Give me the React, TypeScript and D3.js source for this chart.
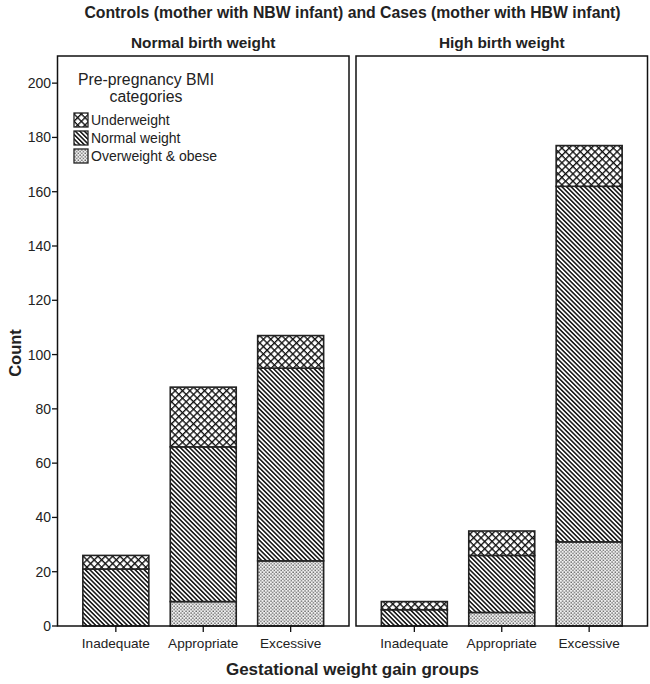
import * as d3 from 'd3';

const WIDTH = 650;
const HEIGHT = 684;

// bar groups and facets
const groups = ['Inadequate', 'Appropriate', 'Excessive'];
const panels = ['Normal birth weight', 'High birth weight'];
// stacking order, bottom to top
const bmiKeys = ['over', 'normal', 'under'];
const bmiLabels = ['Overweight & obese', 'Normal weight', 'Underweight'];

// counts per group (Inadequate, Appropriate, Excessive)
const nbwOver = [0, 9, 24];
const nbwNormal = [21, 57, 71];
const nbwUnder = [5, 22, 12];
const hbwOver = [0, 5, 31];
const hbwNormal = [6, 21, 131];
const hbwUnder = [3, 9, 15];

const yTicks = [0, 20, 40, 60, 80, 100, 120, 140, 160, 180, 200];

const FONT = '"Liberation Sans", Arial, sans-serif';
const PANEL_LEFT = 57.5;
const PANEL_W = 291.5;
const PANEL_GAP = 7;
const Y_TOP = 56;
const Y_BOTTOM = 626;

const patternFor: Record<string, string> = {
    over: 'url(#dots)',
    normal: 'url(#diag)',
    under: 'url(#cross)',
};

function buildRows(over: number[], normal: number[], under: number[]) {
    return groups.map((g, i) => ({ group: g, over: over[i], normal: normal[i], under: under[i] }));
}

const panelRows = [buildRows(nbwOver, nbwNormal, nbwUnder), buildRows(hbwOver, hbwNormal, hbwUnder)];

export default function App() {
    const yScale = d3.scaleLinear().domain([0, 210]).range([Y_BOTTOM, Y_TOP]);
    const xScale = d3
        .scaleBand<string>()
        .domain(groups)
        .range([0, PANEL_W])
        .paddingInner(0.245)
        .paddingOuter(0.29);

    const stack = d3.stack<any>().keys(bmiKeys);
    const plotRight = PANEL_LEFT + 2 * PANEL_W + PANEL_GAP;
    const centerX = (PANEL_LEFT + plotRight) / 2;

    return (
        <div style={{ position: 'absolute', left: 0, top: 0 }}>
            <svg width={WIDTH} height={HEIGHT} style={{ display: 'block', background: '#fff' }}>
                <defs>
                    <pattern id="cross" patternUnits="userSpaceOnUse" width={5.2} height={5.2} patternTransform="rotate(45)">
                        <rect width={5.2} height={5.2} fill="#fff" />
                        <line x1={0} y1={0} x2={0} y2={5.2} stroke="#111" strokeWidth={2.7} />
                        <line x1={0} y1={0} x2={5.2} y2={0} stroke="#111" strokeWidth={2.7} />
                    </pattern>
                    <pattern id="diag" patternUnits="userSpaceOnUse" width={3.2} height={3.2} patternTransform="rotate(-45)">
                        <rect width={3.2} height={3.2} fill="#fff" />
                        <line x1={0.8} y1={0} x2={0.8} y2={3.2} stroke="#151515" strokeWidth={1.55} />
                    </pattern>
                    <pattern id="dots" patternUnits="userSpaceOnUse" width={3.4} height={3.4}>
                        <rect width={3.4} height={3.4} fill="#f2f2f2" />
                        <rect x={0.4} y={0.4} width={1.2} height={1.2} fill="#333" />
                        <rect x={2.1} y={2.1} width={1.2} height={1.2} fill="#333" />
                    </pattern>
                </defs>

                <text x={centerX} y={18} textAnchor="middle" fontFamily={FONT} fontWeight="bold" fontSize={15.8} fill="#222">
                    Controls (mother with NBW infant) and Cases (mother with HBW infant)
                </text>

                {panels.map((title, p) => {
                    const left = PANEL_LEFT + p * (PANEL_W + PANEL_GAP);
                    const series = stack(panelRows[p]);
                    return (
                        <g key={title} transform={`translate(${left},0)`}>
                            <text x={PANEL_W / 2} y={48} textAnchor="middle" fontFamily={FONT} fontWeight="bold" fontSize={15.4} fill="#222">
                                {title}
                            </text>
                            {series.map((s) => (
                                <g key={s.key}>
                                    {s.map((d, i) =>
                                        d[1] - d[0] > 0 ? (
                                            <rect
                                                key={i}
                                                x={xScale(groups[i])}
                                                y={yScale(d[1])}
                                                width={xScale.bandwidth()}
                                                height={yScale(d[0]) - yScale(d[1])}
                                                fill={patternFor[s.key]}
                                                stroke="#222"
                                                strokeWidth={1.6}
                                            />
                                        ) : null,
                                    )}
                                </g>
                            ))}
                            <rect x={0} y={Y_TOP} width={PANEL_W} height={Y_BOTTOM - Y_TOP} fill="none" stroke="#111" strokeWidth={1.5} />
                            {groups.map((g) => {
                                const cx = (xScale(g) ?? 0) + xScale.bandwidth() / 2;
                                return (
                                    <g key={g}>
                                        <line x1={cx} x2={cx} y1={Y_BOTTOM} y2={Y_BOTTOM + 6} stroke="#111" strokeWidth={1.3} />
                                        <text x={cx} y={648} textAnchor="middle" fontFamily={FONT} fontSize={13.6} fill="#222">
                                            {g}
                                        </text>
                                    </g>
                                );
                            })}
                        </g>
                    );
                })}

                {yTicks.map((t) => (
                    <g key={t}>
                        <line x1={PANEL_LEFT - 5.5} x2={PANEL_LEFT} y1={yScale(t)} y2={yScale(t)} stroke="#111" strokeWidth={1.3} />
                        <text x={PANEL_LEFT - 6.5} y={yScale(t) + 5} textAnchor="end" fontFamily={FONT} fontSize={14} fill="#222">
                            {t}
                        </text>
                    </g>
                ))}

                <text
                    transform={`translate(21,${(Y_TOP + Y_BOTTOM) / 2 + 12}) rotate(-90)`}
                    textAnchor="middle"
                    fontFamily={FONT}
                    fontWeight="bold"
                    fontSize={16.5}
                    fill="#222"
                >
                    Count
                </text>
                <text x={centerX} y={675} textAnchor="middle" fontFamily={FONT} fontWeight="bold" fontSize={17} fill="#222">
                    Gestational weight gain groups
                </text>

                {/* legend */}
                <g fontFamily={FONT} fill="#222">
                    <text x={146} y={85} textAnchor="middle" fontSize={15.8}>
                        Pre-pregnancy BMI
                    </text>
                    <text x={146} y={102} textAnchor="middle" fontSize={15.8}>
                        categories
                    </text>
                    {bmiKeys
                        .slice()
                        .reverse()
                        .map((k, i) => (
                            <g key={k} transform={`translate(74,${113 + i * 18})`}>
                                <rect x={0} y={0} width={14} height={14} fill={patternFor[k]} stroke="#222" strokeWidth={1.3} />
                                <text x={17} y={12} fontSize={14}>
                                    {bmiLabels[bmiKeys.indexOf(k)]}
                                </text>
                            </g>
                        ))}
                </g>
            </svg>
        </div>
    );
}
